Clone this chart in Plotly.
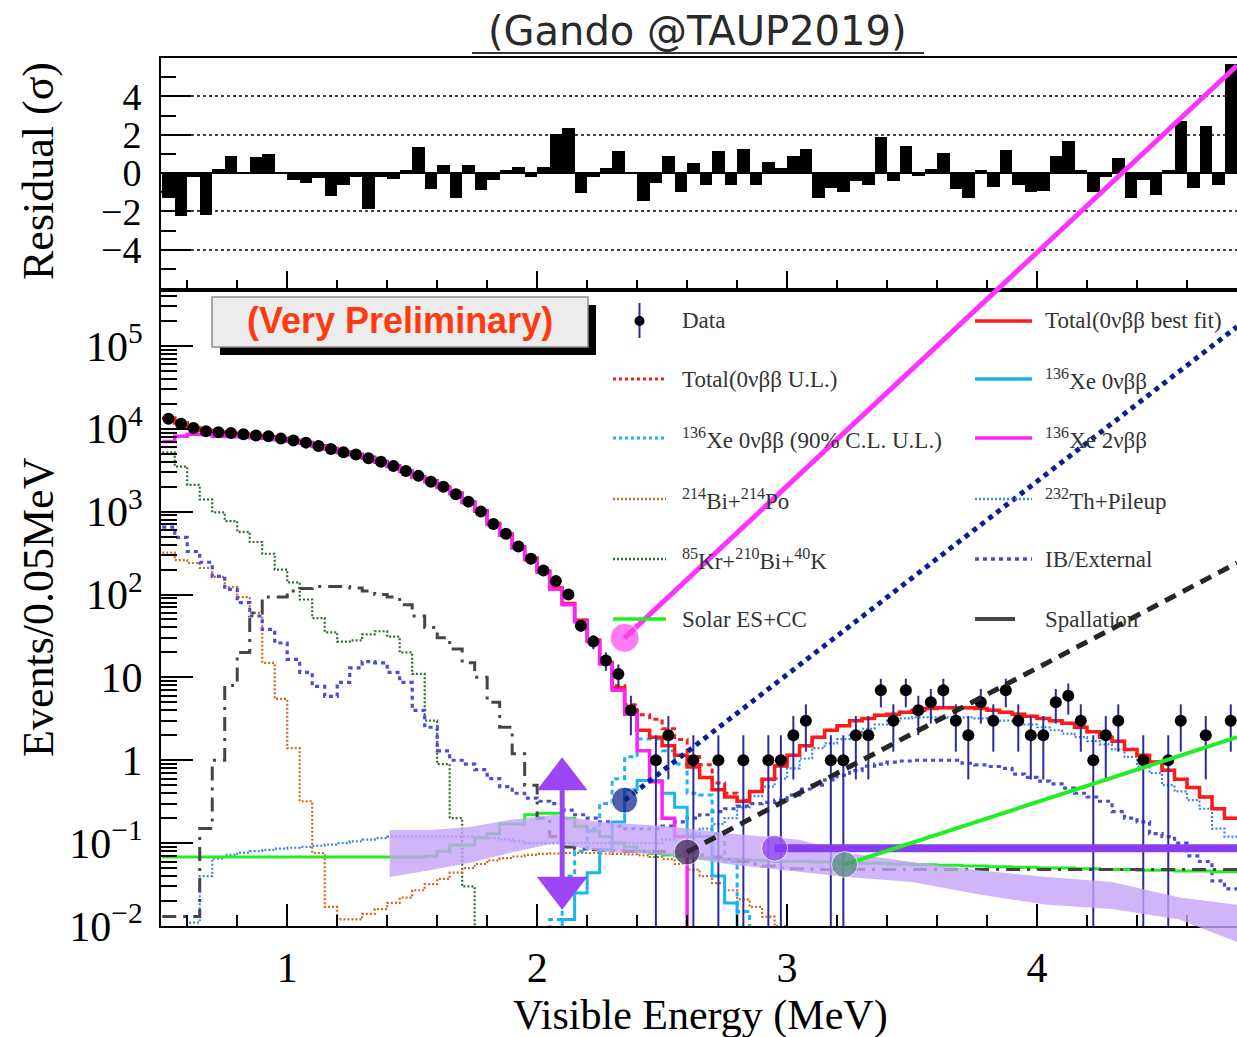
import math
import plotly.graph_objects as go

# ------------------------------------------------------------------
# Energy binning: 0.05 MeV bins from 0.5 to 4.8 MeV
# ------------------------------------------------------------------
E_MIN = 0.5
BIN_W = 0.05
N_BINS = 86

# Observed events per bin
DATA_COUNTS = [
    13200, 11500, 10200, 9300, 9100, 8900, 8600, 8300, 8100, 7600,
    7200, 6800, 6200, 5700, 5200, 4900, 4400, 4000, 3550, 3100,
    2700, 2300, 2000, 1620, 1320, 1000, 710, 540, 380, 270,
    195, 145, 100, 42, 27, 16, 11, 4, 0, 1,
    2, 0, 1, 0, 1, 0, 1, 0, 1, 1,
    2, 3, 0, 1, 1, 2, 2, 7, 3, 7,
    4, 5, 7, 3, 2, 5, 3, 7, 3, 2,
    2, 5, 6, 3, 1, 2, 3, 0, 1, 0,
    1, 3, 0, 2, 0, 3,
]

# Residuals (sigma) per bin
RESIDUALS = [
    -1.3, -2.26, -0.2, -2.17, 0.2, 0.87, 0.05, 0.83, 1.0, 0.05,
    -0.35, -0.5, -0.26, -1.18, -0.64, -0.2, -1.88, -0.2, -0.3, 0.17,
    1.36, -0.83, 0.43, -1.3, 0.43, -0.9, -0.35, 0.17, 0.31, -0.2,
    0.31, 2.05, 2.35, -1.04, -0.2, 0.26, 1.17, 0.05, -1.48, -0.5,
    0.87, -1.0, 0.52, -0.6, 1.13, -0.6, 1.25, -0.6, 0.6, 0.26,
    0.87, 1.25, -1.3, -0.78, -1.0, -0.43, -0.6, 1.9, -0.43, 1.43,
    -0.17, 0.2, 1.04, -0.83, -1.3, 0.17, -0.73, 1.2, -0.6, -1.0,
    -0.92, 0.87, 1.65, 0.17, -1.0, -0.2, 0.78, -1.3, -0.35, -1.13,
    0.17, 2.7, -0.78, 2.43, -0.6, 5.7,
]

# Fit components (events per bin); each list starts at the energy noted
TOTAL_BEST = [  # from 0.50 MeV
    13350, 11740, 10220, 9510, 9080, 8820, 8600, 8225, 8010, 7600,
    7230, 6840, 6220, 5790, 5245, 4915, 4525, 4013, 3568, 3090,
    2630, 2340, 1980, 1672, 1305, 1028, 719, 536, 374, 273,
    191, 120, 78, 49, 28, 15, 7.5, 4.0, 2.3, 1.9,
    1.5, 1.15, 0.83, 0.62, 0.44, 0.36, 0.32, 0.42, 0.59, 0.85,
    1.15, 1.5, 1.9, 2.3, 2.6, 3.0, 3.2, 3.5, 3.6, 3.8,
    4.0, 4.2, 4.3, 4.3, 4.3, 4.2, 4.0, 3.8, 3.6, 3.4,
    3.2, 3.0, 2.8, 2.5, 2.2, 1.9, 1.7, 1.35, 1.15, 0.95,
    0.76, 0.59, 0.47, 0.36, 0.26, 0.2,
]
XE2V = [  # from 0.50 MeV
    7000, 8100, 8600, 8500, 8100, 8050, 8000, 7800, 7700, 7350,
    7050, 6700, 6100, 5650, 5150, 4850, 4400, 3950, 3500, 3050,
    2620, 2300, 1950, 1640, 1280, 1010, 700, 520, 365, 262,
    186, 116, 75, 47, 27, 14.5, 7.0, 3.6, 1.3, 0.55,
    0.2, 0.12,
]
XE0V_BEST_START = 2.10
XE0V_BEST = [0.012, 0.025, 0.044, 0.083, 0.18, 0.44, 0.57, 0.57, 0.4, 0.27,
             0.12, 0.12, 0.04, 0.019, 0.006]
XE0V_UL_START = 2.05
XE0V_UL = [0.012, 0.04, 0.08, 0.15, 0.3, 0.6, 1.1, 1.8, 1.8, 1.3,
           0.9, 0.4, 0.38, 0.13, 0.06, 0.015]
BI214_PO214 = [  # from 0.50 MeV
    320, 260, 240, 210, 163, 123, 93, 60, 15, 5.5,
    1.4, 0.32, 0.076, 0.017, 0.012, 0.012, 0.014, 0.016, 0.019, 0.022,
    0.027, 0.032, 0.037, 0.044, 0.05, 0.056, 0.062, 0.066, 0.069, 0.072,
    0.074, 0.075, 0.076, 0.076, 0.076, 0.075, 0.074, 0.073, 0.071, 0.068,
    0.064, 0.056, 0.048, 0.04, 0.033, 0.027, 0.021, 0.017, 0.013, 0.01,
]
KR85_BI210_K40 = [  # from 0.50 MeV
    5200, 3500, 2100, 1400, 980, 770, 570, 430, 310, 200,
    140, 87, 52, 35, 27, 28, 33, 36, 31, 20,
    11, 3.0, 0.9, 0.2, 0.03,
]
TH232_PILEUP_START = 0.60
TH232_PILEUP = [
    0.011, 0.04, 0.065, 0.072, 0.077, 0.08, 0.083, 0.086, 0.088, 0.09,
    0.093, 0.096, 0.1, 0.105, 0.11, 0.115, 0.12, 0.12, 0.12, 0.12,
    0.12, 0.12, 0.12, 0.118, 0.115, 0.11, 0.105, 0.1, 0.1, 0.1,
    0.1, 0.1, 0.1, 0.1, 0.1, 0.1, 0.1, 0.1, 0.11, 0.12,
    0.13, 0.15, 0.17, 0.2, 0.27, 0.37, 0.48, 0.6, 0.8, 1.05,
    1.4, 1.6, 1.8, 2.1, 2.4, 2.7, 3.0, 3.2, 3.3, 3.3,
    3.3, 3.3, 3.3, 3.2, 3.1, 3.0, 2.8, 2.7, 2.5, 2.3,
    2.1, 1.9, 1.7, 1.55, 1.35, 1.1, 0.84, 0.7, 0.5, 0.42,
    0.33, 0.26, 0.15, 0.12,
]
IB_EXTERNAL = [  # from 0.50 MeV
    650, 490, 330, 245, 165, 115, 80, 55, 38, 26,
    16.5, 11.5, 7.8, 5.9, 8.7, 13, 15.5, 15, 11.5, 8.7,
    4.0, 2.5, 1.3, 1.0, 0.9, 0.77, 0.6, 0.48, 0.4, 0.35,
    0.32, 0.3, 0.25, 0.22, 0.2, 0.18, 0.16, 0.15, 0.15, 0.15,
    0.16, 0.18, 0.2, 0.22, 0.24, 0.26, 0.28, 0.3, 0.31, 0.33,
    0.38, 0.45, 0.5, 0.58, 0.66, 0.75, 0.85, 0.9, 0.95, 0.98,
    1.0, 1.0, 1.0, 1.0, 0.92, 0.88, 0.84, 0.8, 0.68, 0.62,
    0.56, 0.52, 0.46, 0.4, 0.36, 0.32, 0.24, 0.2, 0.18, 0.13,
    0.12, 0.1, 0.07, 0.06, 0.035, 0.028,
]
SOLAR = [  # from 0.50 MeV
    0.068, 0.068, 0.068, 0.068, 0.068, 0.068, 0.068, 0.068, 0.068, 0.068,
    0.068, 0.068, 0.068, 0.068, 0.068, 0.068, 0.068, 0.068, 0.068, 0.068,
    0.068, 0.07, 0.08, 0.095, 0.095, 0.115, 0.13, 0.17, 0.17, 0.22,
    0.23, 0.23, 0.2, 0.16, 0.14, 0.12, 0.1, 0.09, 0.08, 0.075,
    0.072, 0.07, 0.068, 0.066, 0.065, 0.064, 0.063, 0.062, 0.061, 0.06,
    0.06, 0.06, 0.059, 0.059, 0.058, 0.058, 0.057, 0.057, 0.056, 0.056,
    0.055, 0.055, 0.054, 0.054, 0.053, 0.053, 0.052, 0.052, 0.051, 0.051,
    0.05, 0.05, 0.05, 0.049, 0.049, 0.048, 0.048, 0.048, 0.047, 0.047,
    0.047, 0.046, 0.046, 0.046, 0.045, 0.045,
]
SPALLATION = [  # from 0.50 MeV
    0.013, 0.013, 0.013, 0.15, 1.0, 8.0, 20, 60, 93, 93,
    110, 118, 125, 125, 125, 120, 110, 100, 93, 75,
    55, 40, 30, 22, 15, 10, 5.0, 2.5, 1.2, 0.5,
    0.2, 0.12, 0.09, 0.085, 0.083, 0.082, 0.081, 0.08, 0.08, 0.08,
    0.079, 0.078, 0.076, 0.072, 0.068, 0.064, 0.06, 0.056, 0.053, 0.05,
    0.049, 0.049, 0.048, 0.048, 0.048, 0.048, 0.048, 0.048, 0.048, 0.048,
    0.048, 0.048, 0.048, 0.048, 0.048, 0.048, 0.048, 0.048, 0.048, 0.048,
    0.048, 0.048, 0.048, 0.048, 0.048, 0.048, 0.048, 0.048, 0.048, 0.048,
    0.048, 0.048, 0.048, 0.048, 0.048, 0.048,
]

# Hand-drawn annotation layer: markers (MeV, events/bin) and guide lines
MARK_E = [2.35, 2.35, 2.60, 2.95, 3.23]
MARK_Y = [30.0, 0.33, 0.078, 0.087, 0.055]
MARK_COLORS = ["#ff44f0", "#0b1a86", "#3a2450", "#8a3cf2", "#4f8c78"]
GUIDE_END_E = 4.8
GUIDE_2V_END_SIGMA = 5.6          # magenta guide ends inside the residual pad
GUIDE_END_Y = [None, 1.7e5, 240.0, 0.087, 1.9]
ARROW_E = 2.10
ARROW_UP_Y = 0.59
ARROW_DOWN_Y = 0.029
BAND_E = [1.41, 1.57, 1.73, 1.89, 2.07, 2.25, 2.52, 2.78, 3.05, 3.24,
          3.50, 3.77, 4.04, 4.30, 4.57, 4.80]
BAND_HI = [0.144, 0.144, 0.157, 0.19, 0.22, 0.18, 0.16, 0.13, 0.11, 0.076,
           0.059, 0.047, 0.039, 0.034, 0.022, 0.018]
BAND_LO = [0.039, 0.047, 0.058, 0.076, 0.10, 0.08, 0.072, 0.055, 0.045, 0.039,
           0.034, 0.024, 0.018, 0.016, 0.012, 0.0064]

# ------------------------------------------------------------------
# Page geometry
# ------------------------------------------------------------------
FIG_W, FIG_H = 1237, 1037
M_L, M_R, M_T, M_B = 161, 0, 56, 80


def px(x):
    return (x - M_L) / (FIG_W - M_L - M_R)


def py(y):
    return (FIG_H - M_B - y) / (FIG_H - M_T - M_B)


X_RANGE = [0.495, 4.8]
LOG_RANGE = [-2, 5.65]
RES_RANGE = [-6, 6]
LOW_DOM = [py(926), py(292)]
RES_DOM = [py(288), py(58)]

SERIF = "Liberation Serif"
RED = "#ff1a1a"
CYAN = "#19b5f0"
MAGENTA = "#ff22ff"
ORANGE = "#d2691e"
DKGREEN = "#2f6e2f"
TH_BLUE = "#3d86e6"
IB_BLUE = "#4b4bd8"
LIME = "#22ee22"
SPALL = "#454545"
ERR_BLUE = "#2b2b9e"
FLOOR = 1e-4

edges = [E_MIN + BIN_W * i for i in range(N_BINS + 1)]
centers = [E_MIN + BIN_W * (i + 0.5) for i in range(N_BINS)]


def full_bins(values, start=E_MIN):
    off = int(round((start - E_MIN) / BIN_W))
    out = [FLOOR] * N_BINS
    for i, v in enumerate(values):
        out[off + i] = v if v > 0 else FLOOR
    return out


def ov_count(c):
    f = (math.log10(c) - LOG_RANGE[0]) / (LOG_RANGE[1] - LOG_RANGE[0])
    return LOW_DOM[0] + f * (LOW_DOM[1] - LOW_DOM[0])


def ov_sigma(r):
    f = (r - RES_RANGE[0]) / (RES_RANGE[1] - RES_RANGE[0])
    return RES_DOM[0] + f * (RES_DOM[1] - RES_DOM[0])


total_best = full_bins(TOTAL_BEST)
xe0v_best = full_bins(XE0V_BEST, XE0V_BEST_START)
xe0v_ul = full_bins(XE0V_UL, XE0V_UL_START)
total_ul = [t + max(u, 0) - max(b, 0) if u > FLOOR else t
            for t, u, b in zip(total_best, xe0v_ul,
                               [b if b > FLOOR else 0 for b in xe0v_best])]

fig = go.Figure()


def add_step(values, color, width, dash=None):
    fig.add_trace(go.Scatter(
        x=edges, y=list(values) + [values[-1]], mode="lines",
        line=dict(color=color, width=width, dash=dash, shape="hv"),
        xaxis="x", yaxis="y", hoverinfo="skip"))


# background and signal components
add_step(full_bins(KR85_BI210_K40), DKGREEN, 2.2, "2px,2px")
add_step(full_bins(BI214_PO214), ORANGE, 2.2, "2px,2px")
add_step(full_bins(TH232_PILEUP, TH232_PILEUP_START), TH_BLUE, 2.2, "2px,2px")
add_step(full_bins(IB_EXTERNAL), IB_BLUE, 3.2, "4px,4px")
add_step(full_bins(SOLAR), LIME, 3)
add_step(full_bins(SPALLATION), SPALL, 3, "14px,7px,3px,7px")
add_step(xe0v_ul, CYAN, 3, "5px,4px")
add_step(xe0v_best, CYAN, 3)
add_step(total_ul, RED, 3, "5px,4px")
add_step(total_best, RED, 3.5)
add_step(full_bins(XE2V), MAGENTA, 3.5)

# data with sqrt(N) error bars
ex, ey, dx, dy = [], [], [], []
for c, n in zip(centers, DATA_COUNTS):
    if n > 0:
        s = math.sqrt(n)
        ex += [c, c, None]
        ey += [max(n - s, FLOOR), n + s, None]
        dx.append(c)
        dy.append(n)
fig.add_trace(go.Scatter(x=ex, y=ey, mode="lines",
                         line=dict(color=ERR_BLUE, width=2),
                         xaxis="x", yaxis="y", hoverinfo="skip"))
fig.add_trace(go.Scatter(x=dx, y=dy, mode="markers",
                         marker=dict(color="black", size=12),
                         xaxis="x", yaxis="y", hoverinfo="skip"))

# residual pad
fig.add_trace(go.Bar(x=centers, y=RESIDUALS, width=BIN_W,
                     marker=dict(color="black", line=dict(width=0)),
                     xaxis="x2", yaxis="y2", hoverinfo="skip"))

# ---------------- annotation layer (spans both pads) ----------------
band_x = BAND_E + BAND_E[::-1]
band_y = [ov_count(v) for v in BAND_HI] + [ov_count(v) for v in BAND_LO[::-1]]
fig.add_trace(go.Scatter(x=band_x, y=band_y, mode="lines", fill="toself",
                         fillcolor="rgba(196,162,246,0.8)",
                         line=dict(width=0), xaxis="x3", yaxis="y3",
                         hoverinfo="skip"))

guide_styles = [
    dict(color="#ff33ff", width=5),
    dict(color="#0d1f8f", width=5, dash="dot"),
    dict(color="#262626", width=5, dash="12px,8px"),
    dict(color="#8a3cf2", width=8),
    dict(color="#22ee22", width=4),
]
for i, (e0, y0) in enumerate(zip(MARK_E, MARK_Y)):
    if i == 0:
        y_end = ov_sigma(GUIDE_2V_END_SIGMA)
    else:
        y_end = ov_count(GUIDE_END_Y[i])
    fig.add_trace(go.Scatter(x=[e0, GUIDE_END_E], y=[ov_count(y0), y_end],
                             mode="lines", line=guide_styles[i],
                             xaxis="x3", yaxis="y3", hoverinfo="skip"))

fig.add_trace(go.Scatter(
    x=MARK_E, y=[ov_count(v) for v in MARK_Y], mode="markers",
    marker=dict(color=MARK_COLORS, size=[29, 26, 26, 26, 26]),
    xaxis="x3", yaxis="y3", hoverinfo="skip"))

ARROW_COLOR = "#9b45f5"
fig.add_trace(go.Scatter(x=[ARROW_E, ARROW_E],
                         y=[ov_count(ARROW_UP_Y), ov_count(ARROW_DOWN_Y)],
                         mode="lines", line=dict(color=ARROW_COLOR, width=5),
                         xaxis="x3", yaxis="y3", hoverinfo="skip"))
fig.add_trace(go.Scatter(x=[ARROW_E, ARROW_E],
                         y=[ov_count(ARROW_UP_Y), ov_count(ARROW_DOWN_Y)],
                         mode="markers",
                         marker=dict(color=ARROW_COLOR, size=44,
                                     symbol=["triangle-up", "triangle-down"]),
                         xaxis="x3", yaxis="y3", hoverinfo="skip"))

# ------------------------------------------------------------------
# Axes
# ------------------------------------------------------------------
decades = list(range(-2, 6))
dec_vals = [10.0 ** d for d in decades]
dec_text = []
for d in decades:
    if d == 0:
        dec_text.append("1")
    elif d == 1:
        dec_text.append("10")
    else:
        dec_text.append("10<sup>%s</sup>" % (str(d).replace("-", "\u2212")))
minor_log = [k * 10.0 ** d for d in range(-2, 6) for k in range(2, 10)
             if k * 10.0 ** d < 10 ** LOG_RANGE[1]]

tick_font = dict(family=SERIF, size=42, color="black")
res_tick_font = dict(family=SERIF, size=38, color="black")
line_common = dict(showline=True, linecolor="black", linewidth=2,
                   showgrid=False, zeroline=False)

fig.update_layout(
    width=FIG_W, height=FIG_H,
    margin=dict(l=M_L, r=M_R, t=M_T, b=M_B),
    paper_bgcolor="white", plot_bgcolor="rgba(0,0,0,0)",
    showlegend=False, hovermode=False, bargap=0,
    font=dict(family=SERIF, color="black"),
    xaxis=dict(domain=[0, 1], range=X_RANGE, anchor="y", mirror=True,
               ticks="inside", ticklen=22, tickwidth=2, tickcolor="black",
               tickmode="array", tickvals=[1, 2, 3, 4], ticktext=["1", "2", "3", "4"],
               tickfont=tick_font, ticklabelstandoff=4,
               minor=dict(ticks="inside", ticklen=11, tickwidth=2,
                          tickcolor="black", dtick=0.2, tick0=0),
               **line_common),
    yaxis=dict(domain=LOW_DOM, type="log", range=LOG_RANGE, anchor="x",
               ticks="inside", ticklen=32, tickwidth=2, tickcolor="black",
               tickmode="array", tickvals=dec_vals, ticktext=dec_text,
               tickfont=tick_font, ticklabelstandoff=8,
               minor=dict(ticks="inside", ticklen=16, tickwidth=2,
                          tickcolor="black", tickmode="array", tickvals=minor_log),
               **line_common),
    xaxis2=dict(domain=[0, 1], range=X_RANGE, anchor="y2", mirror=True,
                ticks="inside", ticklen=17, tickwidth=2, tickcolor="black",
                tickmode="array", tickvals=[1, 2, 3, 4], showticklabels=False,
                minor=dict(ticks="inside", ticklen=8, tickwidth=2,
                           tickcolor="black", dtick=0.2, tick0=0),
                **line_common),
    yaxis2=dict(domain=RES_DOM, range=RES_RANGE, anchor="x2",
                showline=True, linecolor="black", linewidth=2,
                ticks="inside", ticklen=30, tickwidth=2, tickcolor="black",
                tickmode="array", tickvals=[-4, -2, 0, 2, 4],
                ticktext=["\u22124", "\u22122", "0", "2", "4"],
                tickfont=res_tick_font, ticklabelstandoff=10,
                minor=dict(ticks="inside", ticklen=15, tickwidth=2,
                           tickcolor="black", tickmode="array",
                           tickvals=[-5, -3, -1, 1, 3, 5]),
                showgrid=True, griddash="dot", gridcolor="#444",
                gridwidth=1.5, zeroline=True, zerolinecolor="black",
                zerolinewidth=2),
    xaxis3=dict(domain=[0, 1], range=X_RANGE, anchor="y3", visible=False),
    yaxis3=dict(domain=[0, 1], range=[0, 1], anchor="x3", visible=False),
)

# ------------------------------------------------------------------
# Text: title, axis titles, stamp and legend
# ------------------------------------------------------------------
annotations = []
shapes = []


def label(text, x, y, font, angle=0, xanchor="center"):
    annotations.append(dict(text=text, x=px(x), y=py(y), xref="paper",
                            yref="paper", xanchor=xanchor, yanchor="middle",
                            textangle=angle, showarrow=False, font=font))


label("(Gando @TAUP2019)", 697, 31,
      dict(family="DejaVu Sans", size=40, color="#2a2a2a"))
shapes.append(dict(type="line", xref="paper", yref="paper",
                   x0=px(472), x1=px(924), y0=py(53), y1=py(53),
                   line=dict(color="#333", width=2)))

label("Residual (\u03c3)", 38, 171, dict(family=SERIF, size=44), angle=-90)
label("Events/0.05MeV", 38, 607, dict(family=SERIF, size=44), angle=-90)
label("Visible Energy (MeV)", 700, 1015, dict(family=SERIF, size=42))

# "(Very Preliminary)" stamp with drop shadow
shapes.append(dict(type="rect", xref="paper", yref="paper", layer="above",
                   x0=px(220), x1=px(596), y0=py(355), y1=py(305),
                   fillcolor="black", line=dict(width=0)))
shapes.append(dict(type="rect", xref="paper", yref="paper", layer="above",
                   x0=px(212), x1=px(588), y0=py(347), y1=py(297),
                   fillcolor="#ececec", line=dict(color="#8c8c8c", width=1.5)))
label("<b>(Very Preliminary)</b>", 400, 321,
      dict(family="Liberation Sans", size=36, color="#ff3a10"))

# legend
ROW_Y = [321, 379, 438, 499, 559, 619]
LEFT_SAMPLE = (613, 666)
LEFT_TEXT_X = 680
RIGHT_SAMPLE = (975, 1032)
RIGHT_TEXT_X = 1043
legend_left = [
    ("Data", None),
    ("Total(0\u03bd\u03b2\u03b2 U.L.)", dict(color=RED, width=3, dash="dot")),
    ("<sup>136</sup>Xe 0\u03bd\u03b2\u03b2 (90% C.L. U.L.)",
     dict(color=CYAN, width=3, dash="dot")),
    ("<sup>214</sup>Bi+<sup>214</sup>Po", dict(color=ORANGE, width=2.5, dash="2px,2px")),
    ("<sup>85</sup>Kr+<sup>210</sup>Bi+<sup>40</sup>K",
     dict(color=DKGREEN, width=2.5, dash="2px,2px")),
    ("Solar ES+CC", dict(color=LIME, width=3.5)),
]
legend_right = [
    ("Total(0\u03bd\u03b2\u03b2 best fit)", dict(color=RED, width=3.5)),
    ("<sup>136</sup>Xe 0\u03bd\u03b2\u03b2", dict(color=CYAN, width=3.5)),
    ("<sup>136</sup>Xe 2\u03bd\u03b2\u03b2", dict(color=MAGENTA, width=3.5)),
    ("<sup>232</sup>Th+Pileup", dict(color=TH_BLUE, width=2.5, dash="2px,2px")),
    ("IB/External", dict(color=IB_BLUE, width=3.5, dash="4px,4px")),
    ("Spallation", dict(color=SPALL, width=4)),
]
legend_font = dict(family=SERIF, size=23, color="#333")
for entries, (sx0, sx1), tx in [(legend_left, LEFT_SAMPLE, LEFT_TEXT_X),
                                (legend_right, RIGHT_SAMPLE, RIGHT_TEXT_X)]:
    for (text, style), ry in zip(entries, ROW_Y):
        if style is None:
            cx = (sx0 + sx1) / 2
            shapes.append(dict(type="line", xref="paper", yref="paper",
                               layer="above", x0=px(cx), x1=px(cx),
                               y0=py(ry - 18), y1=py(ry + 17),
                               line=dict(color=ERR_BLUE, width=2)))
            shapes.append(dict(type="circle", xref="paper", yref="paper",
                               layer="above", x0=px(cx - 5), x1=px(cx + 5),
                               y0=py(ry + 5), y1=py(ry - 5),
                               fillcolor="black", line=dict(width=0)))
        else:
            x_end = sx1 if text != "Spallation" else sx0 + 40
            shapes.append(dict(type="line", xref="paper", yref="paper",
                               layer="above", x0=px(sx0), x1=px(x_end),
                               y0=py(ry), y1=py(ry), line=style))
        label(text, tx, ry, legend_font, xanchor="left")

fig.update_layout(annotations=annotations, shapes=shapes)

fig.write_html("out.html")
